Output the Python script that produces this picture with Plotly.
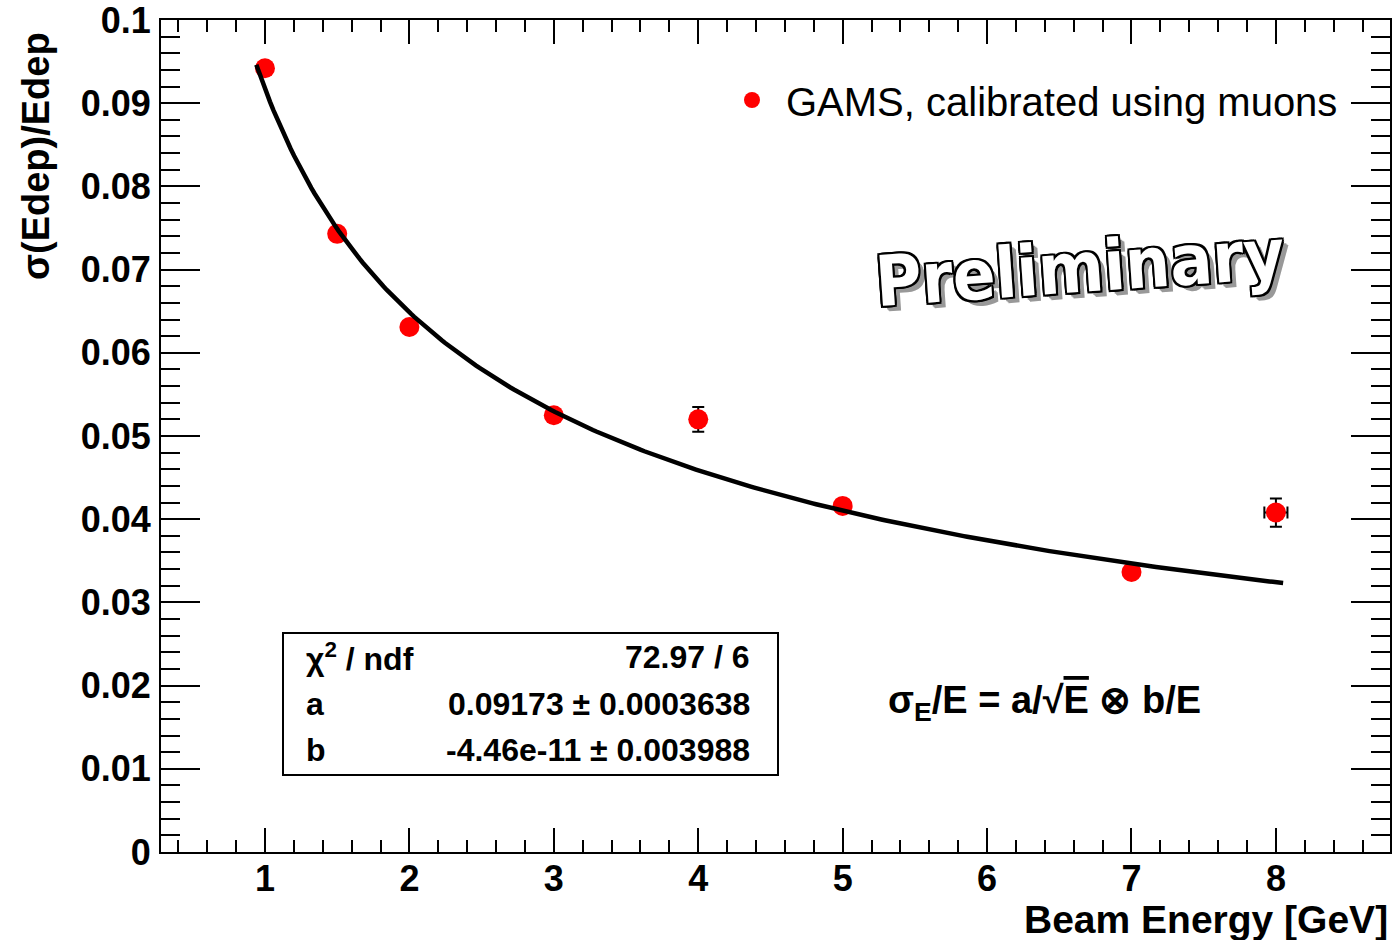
import numpy as np
import plotly.graph_objects as go

# Measured energy resolution of the GAMS calorimeter
energy = [1, 1.5, 2, 3, 4, 5, 7, 8]
resolution = [0.0942, 0.0743, 0.0631, 0.0525, 0.0520, 0.0416, 0.03365, 0.0408]
resolution_err = [0.0006, 0.0005, 0.0005, 0.0005, 0.0015, 0.0005, 0.0005, 0.0017]
energy_err = [0, 0, 0, 0, 0, 0, 0, 0.08]

# Fit result: sigma_E/E = a/sqrt(E) (+) b/E
fit_a = 0.09173
fit_a_err = 0.0003638
fit_b = -4.46e-11
fit_b_err = 0.003988
chi2 = 72.97
ndf = 6
fit_range = [0.94, 8.05]

x_ticks = [1, 2, 3, 4, 5, 6, 7, 8]
y_ticks = [0, 0.01, 0.02, 0.03, 0.04, 0.05, 0.06, 0.07, 0.08, 0.09, 0.1]
y_tick_text = ["0", "0.01", "0.02", "0.03", "0.04", "0.05", "0.06", "0.07", "0.08", "0.09", "0.1"]

FONT = "Liberation Sans, Arial, Helvetica, sans-serif"
W, H = 1394, 940
L, R, T, B = 161, 4, 20, 88


def px(xp):
    return (xp - L) / (W - L - R)


def py(yp):
    return (H - B - yp) / (H - T - B)


e_fit = np.linspace(fit_range[0], fit_range[1], 300)
res_fit = np.sqrt((fit_a / np.sqrt(e_fit)) ** 2 + (fit_b / e_fit) ** 2)

fig = go.Figure()
fig.add_trace(go.Scatter(
    x=energy, y=resolution, mode="markers",
    name="GAMS, calibrated using muons",
    marker=dict(color="#ff0000", size=20, symbol="circle"),
    error_y=dict(type="data", array=resolution_err, color="black", thickness=2, width=6),
    error_x=dict(type="data", array=energy_err, color="black", thickness=2, width=6),
))
fig.add_trace(go.Scatter(
    x=e_fit, y=res_fit, mode="lines", showlegend=False,
    line=dict(color="black", width=4.5),
))

tickfont = dict(family=FONT, size=36, color="black", weight="bold")
fig.update_xaxes(
    range=[0.28, 8.79], tickmode="array", tickvals=x_ticks, automargin=False,
    ticks="inside", ticklen=24, tickwidth=2, tickcolor="black",
    showline=True, linewidth=2, linecolor="black", mirror="ticks",
    showgrid=False, zeroline=False, tickfont=tickfont, ticklabelstandoff=-6,
    minor=dict(tickmode="linear", tick0=0, dtick=0.2, ticks="inside",
               ticklen=12, tickwidth=2, tickcolor="black", showgrid=False),
)
fig.update_yaxes(
    range=[0, 0.1], tickmode="array", tickvals=y_ticks, ticktext=y_tick_text,
    automargin=False,
    ticks="inside", ticklen=39, tickwidth=2, tickcolor="black",
    showline=True, linewidth=2, linecolor="black", mirror="ticks",
    showgrid=False, zeroline=False, tickfont=tickfont, ticklabelstandoff=1,
    ticklabeloverflow="allow",
    minor=dict(tickmode="linear", tick0=0, dtick=0.002, ticks="inside",
               ticklen=19, tickwidth=2, tickcolor="black", showgrid=False),
)

annotations = [
    dict(text="σ(Edep)/Edep", textangle=-90, x=px(36), y=py(30),
         xanchor="center", yanchor="top",
         font=dict(family=FONT, size=38, color="black", weight="bold")),
    dict(text="Beam Energy [GeV]", x=px(1390), y=py(919),
         xanchor="right", yanchor="middle",
         font=dict(family=FONT, size=39, color="black", weight="bold")),
    dict(text="σ<sub>E</sub>/E = a/√<span style='text-decoration:overline'>E</span> ⊗ b/E",
         x=px(1044), y=py(703), xanchor="center", yanchor="middle",
         font=dict(family=FONT, size=38, color="black", weight="bold")),
    dict(text="Preliminary", textangle=-4, x=px(1080), y=py(268),
         xanchor="center", yanchor="middle",
         font=dict(family="Liberation Sans Narrow, DejaVu Sans Condensed, Arial Narrow, sans-serif",
                   size=70, color="white", weight="bold",
                   shadow=("-2px -2px 0 #000, 2px -2px 0 #000, -2px 2px 0 #000, 2px 2px 0 #000, "
                           "0 -2px 0 #000, 0 2px 0 #000, -2px 0 0 #000, 2px 0 0 #000, "
                           "4px 4px 0 #999, 5px 5px 0 #999, 6px 6px 0 #999"))),
]

stat_font = dict(family=FONT, size=32, color="black", weight="bold")
stat_rows = [
    ("χ<sup>2</sup> / ndf", f"{chi2:.2f} / {ndf}", 657),
    ("a", f"{fit_a:.5f} ± {fit_a_err:.7f}", 704),
    ("b", f"{fit_b:.2e}" + f" ± {fit_b_err:.6f}", 750),
]
for label, value, yp in stat_rows:
    annotations.append(dict(text=label, x=px(304), y=py(yp), xanchor="left",
                            yanchor="middle", font=stat_font))
    annotations.append(dict(text=value, x=px(752), y=py(yp), xanchor="right",
                            yanchor="middle", font=stat_font))

for a in annotations:
    a.update(xref="paper", yref="paper", showarrow=False)

fig.update_layout(
    width=W, height=H, margin=dict(l=L, r=R, t=T, b=B, autoexpand=False),
    plot_bgcolor="white", paper_bgcolor="white",
    annotations=annotations,
    shapes=[dict(type="rect", xref="paper", yref="paper",
                 x0=px(283), x1=px(778), y0=py(775), y1=py(633),
                 line=dict(color="black", width=2), fillcolor="white", layer="below")],
    legend=dict(x=px(1343), y=py(100), xanchor="right", yanchor="middle",
                bgcolor="rgba(0,0,0,0)", borderwidth=0, itemwidth=58,
                font=dict(family=FONT, size=40, color="black")),
    showlegend=True,
)

fig.write_html("out.html")
